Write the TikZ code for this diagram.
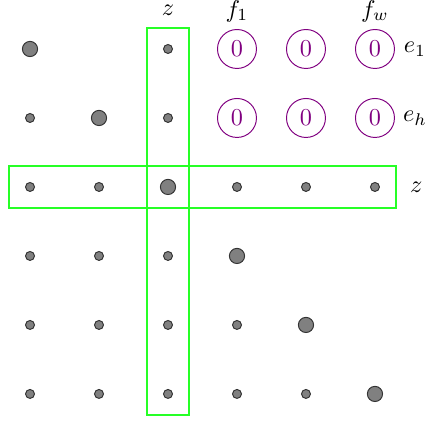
\documentclass[tikz,border=0pt]{standalone}
\usetikzlibrary{positioning, fit}

\begin{document}
\begin{tikzpicture}[
  x=1cm, y=1cm,
  every node/.style={font=\normalsize},
  dot/.style={circle, draw=black!80, fill=gray, inner sep=0pt,
              minimum size=0.13cm, line width=0.4pt},
  bigdot/.style={dot, minimum size=0.22cm},
  zero/.style={circle, draw=violet, text=violet, inner sep=0pt,
               minimum size=0.565cm},
  zbox/.style={rectangle, draw=green!85!white, line width=0.6pt, inner sep=0.235cm},
  lbl/.style={inner sep=1pt}
]
  \useasboundingbox (-0.435,-5.391) rectangle (5.754,0.71);

  % Row 1 (e_1)
  \node[bigdot] (r1c1) at (0,0) {};
  \node[dot]    (r1c3) at (2,0) {};
  \node[zero]   (r1c4) at (3,0) {$0$};
  \node[zero]   (r1c5) at (4,0) {$0$};
  \node[zero]   (r1c6) at (5,0) {$0$};

  % Row 2 (e_h)
  \node[dot]    (r2c1) at (0,-1) {};
  \node[bigdot] (r2c2) at (1,-1) {};
  \node[dot]    (r2c3) at (2,-1) {};
  \node[zero]   (r2c4) at (3,-1) {$0$};
  \node[zero]   (r2c5) at (4,-1) {$0$};
  \node[zero]   (r2c6) at (5,-1) {$0$};

  % Row 3 (z)
  \node[dot]    (r3c1) at (0,-2) {};
  \node[dot]    (r3c2) at (1,-2) {};
  \node[bigdot] (r3c3) at (2,-2) {};
  \node[dot]    (r3c4) at (3,-2) {};
  \node[dot]    (r3c5) at (4,-2) {};
  \node[dot]    (r3c6) at (5,-2) {};

  % Row 4
  \node[dot]    (r4c1) at (0,-3) {};
  \node[dot]    (r4c2) at (1,-3) {};
  \node[dot]    (r4c3) at (2,-3) {};
  \node[bigdot] (r4c4) at (3,-3) {};

  % Row 5
  \node[dot]    (r5c1) at (0,-4) {};
  \node[dot]    (r5c2) at (1,-4) {};
  \node[dot]    (r5c3) at (2,-4) {};
  \node[dot]    (r5c4) at (3,-4) {};
  \node[bigdot] (r5c5) at (4,-4) {};

  % Row 6
  \node[dot]    (r6c1) at (0,-5) {};
  \node[dot]    (r6c2) at (1,-5) {};
  \node[dot]    (r6c3) at (2,-5) {};
  \node[dot]    (r6c4) at (3,-5) {};
  \node[dot]    (r6c5) at (4,-5) {};
  \node[bigdot] (r6c6) at (5,-5) {};

  % Highlighted row and column
  \node[zbox, fit=(r1c3) (r6c3)] (zcol) {};
  \node[zbox, fit=(r3c1) (r3c6)] (zrow) {};

  % Labels
  \node[lbl] (ztop) at (2,0.56)  {$z$};
  \node[lbl] (fone) at (3,0.55) {$f_1$};
  \node[lbl] (fw)   at (5,0.55) {$f_w$};
  \node[lbl] (eone) at (5.58,0)  {$e_1$};
  \node[lbl] (eh)   at (5.58,-1) {$e_h$};
  \node[lbl] (zright) at (5.6,-2) {$z$};
\end{tikzpicture}
\end{document}
